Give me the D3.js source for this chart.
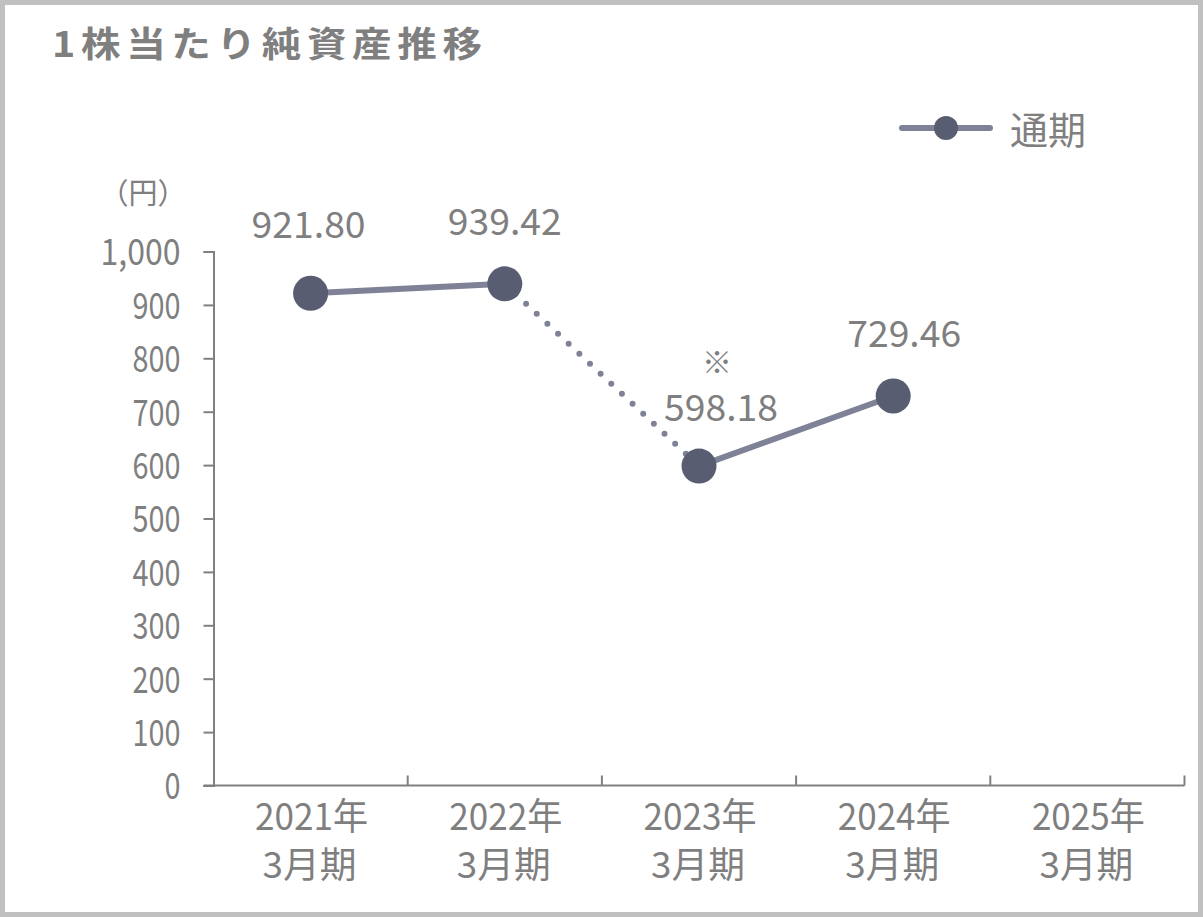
<!DOCTYPE html>
<html>
<head>
<meta charset="utf-8">
<script src="https://cdn.jsdelivr.net/npm/d3@7"></script>
<style>
  html, body { margin: 0; padding: 0; background: #fff; }
  svg { display: block; }
  .num { font-family: "Noto Sans CJK JP", "Noto Sans", sans-serif; }
  .jp { font-family: "Noto Sans CJK JP", sans-serif; }
</style>
</head>
<body>
<svg id="chart" width="1203" height="917"></svg>
<script>
// ---- data ----
const title = "1株当たり純資産推移";
const unitLabel = "（円）";
const legendLabel = "通期";
const categoriesYear = ["2021年", "2022年", "2023年", "2024年", "2025年"];
const categoriesPeriod = ["3月期", "3月期", "3月期", "3月期", "3月期"];
const values = [921.80, 939.42, 598.18, 729.46];
const valueLabels = ["921.80", "939.42", "598.18", "729.46"];
const notes = ["", "", "※", ""];
const yTicks = [0, 100, 200, 300, 400, 500, 600, 700, 800, 900, 1000];
// segment styles between consecutive points: solid / dotted
const segmentTypes = ["solid", "dotted", "solid"];

// ---- layout / style ----
const W = 1203, H = 917;
const plot = { left: 213.5, right: 1184.5, top: 251.5, bottom: 785.5 };
const textColor = "#7f7f7f";
const axisColor = "#808080";
const lineColor = "#7f8296";
const markerColor = "#585d72";
const labelOffsets = [[-2, -55], [0, -49], [22, -45], [11, -49]];
const tickCharW = 16;       // condensed digit cell width for tick labels
const labelCharW = 19;      // cell width for data labels

const svg = d3.select("#chart");

// background + border
svg.append("rect").attr("x", 2.5).attr("y", 2.5).attr("width", W - 5).attr("height", H - 5)
  .attr("fill", "#fff").attr("stroke", "#c0c0c0").attr("stroke-width", 5);

// title (horizontally widened like the original)
svg.append("text").attr("class", "jp")
  .attr("transform", "translate(52,57) scale(1.13,1)")
  .attr("font-size", 35).attr("font-weight", "bold")
  .attr("letter-spacing", 5)
  .attr("fill", textColor).text(title);

// scales
const keys = categoriesYear.map((d, i) => i);
const x = d3.scaleBand().domain(keys).range([plot.left, plot.right]).padding(0);
const y = d3.scaleLinear().domain([0, 1000]).range([plot.bottom, plot.top]);
const cx = i => x(i) + x.bandwidth() / 2;

// y axis
const yAxis = d3.axisLeft(y).tickValues(yTicks).tickSize(10).tickPadding(23)
  .tickFormat(d3.format(","));
const gy = svg.append("g").attr("transform", `translate(${plot.left},0)`).call(yAxis);
gy.select(".domain").attr("stroke", axisColor).attr("stroke-width", 2);
gy.selectAll(".tick line").attr("stroke", axisColor).attr("stroke-width", 2);
gy.selectAll(".tick text").attr("class", "num").attr("font-size", 37)
  .attr("fill", textColor).attr("dy", "0.36em")
  .attr("textLength", function () { return this.textContent.length * tickCharW; })
  .attr("lengthAdjust", "spacingAndGlyphs");

// x axis baseline
svg.append("line").attr("x1", plot.left - 10).attr("x2", plot.right)
  .attr("y1", plot.bottom).attr("y2", plot.bottom)
  .attr("stroke", axisColor).attr("stroke-width", 2);
// category boundary ticks (upward)
const boundaries = keys.slice(1).map(i => x(i)).concat([plot.right]);
svg.append("g").selectAll("line").data(boundaries).join("line")
  .attr("x1", d => d).attr("x2", d => d)
  .attr("y1", plot.bottom).attr("y2", plot.bottom - 10)
  .attr("stroke", axisColor).attr("stroke-width", 2);

// x labels (two lines)
const xg = svg.append("g");
xg.selectAll("text.yr").data(keys).join("text").attr("class", "num yr")
  .attr("text-anchor", "middle").attr("font-size", 37).attr("fill", textColor)
  .attr("x", i => cx(i) + 1).attr("y", plot.bottom + 44)
  .attr("textLength", 113).attr("lengthAdjust", "spacingAndGlyphs")
  .text(i => categoriesYear[i]);
xg.selectAll("text.pd").data(keys).join("text").attr("class", "num pd")
  .attr("text-anchor", "middle").attr("font-size", 36).attr("fill", textColor)
  .attr("x", i => cx(i) - 1).attr("y", plot.bottom + 92)
  .attr("textLength", 94).attr("lengthAdjust", "spacingAndGlyphs")
  .text(i => categoriesPeriod[i]);

// unit label
svg.append("text").attr("class", "jp").attr("x", 143).attr("y", 204)
  .attr("text-anchor", "middle").attr("font-size", 29).attr("fill", textColor)
  .text(unitLabel);

// line segments
const pts = values.map((v, i) => [cx(i), y(v)]);
segmentTypes.forEach((t, i) => {
  const p = svg.append("path")
    .attr("d", d3.line()([pts[i], pts[i + 1]]))
    .attr("fill", "none").attr("stroke", lineColor)
    .attr("stroke-width", 6).attr("stroke-linecap", "round");
  if (t === "dotted") p.attr("stroke-dasharray", "0 14.6");
});

// markers
svg.append("g").selectAll("circle").data(pts).join("circle")
  .attr("cx", d => d[0]).attr("cy", d => d[1]).attr("r", 17.5)
  .attr("fill", markerColor);

// data labels
svg.append("g").selectAll("text").data(values).join("text")
  .attr("class", "num").attr("text-anchor", "middle")
  .attr("x", (d, i) => cx(i) + labelOffsets[i][0])
  .attr("y", (d, i) => y(d) + labelOffsets[i][1])
  .attr("font-size", 37).attr("fill", textColor)
  .attr("textLength", (d, i) => valueLabels[i].length * labelCharW)
  .attr("lengthAdjust", "spacingAndGlyphs")
  .text((d, i) => valueLabels[i]);

// notes (※)
svg.append("g").selectAll("text").data(values).join("text")
  .attr("class", "jp").attr("text-anchor", "middle")
  .attr("x", (d, i) => cx(i) + 18)
  .attr("y", (d, i) => y(d) - 93)
  .attr("font-size", 30).attr("fill", textColor)
  .text((d, i) => notes[i]);

// legend
const lg = svg.append("g");
lg.append("line").attr("x1", 902).attr("x2", 990).attr("y1", 128).attr("y2", 128)
  .attr("stroke", lineColor).attr("stroke-width", 6).attr("stroke-linecap", "round");
lg.append("circle").attr("cx", 946).attr("cy", 128).attr("r", 12).attr("fill", markerColor);
lg.append("text").attr("class", "jp").attr("x", 1010).attr("y", 144)
  .attr("font-size", 38).attr("fill", textColor).text(legendLabel);
</script>
</body>
</html>
